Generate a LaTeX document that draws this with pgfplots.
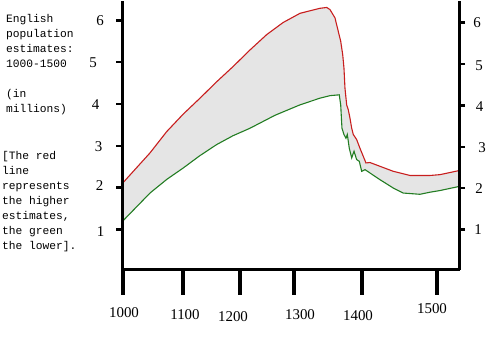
\documentclass[border=0pt]{standalone}
\usepackage{fontspec}
\setmainfont{Liberation Serif}
\newfontfamily\monofont{Liberation Mono}
\usepackage{pgfplots}
\usepackage{pgfplotstable}
\pgfplotsset{compat=1.18}
\usepgfplotslibrary{fillbetween}
\definecolor{redline}{RGB}{200,30,30}
\definecolor{greenline}{RGB}{35,125,35}
\definecolor{bandfill}{RGB}{229,229,229}
\pgfplotstableread{
x y
999 2.10
1043.0 2.83
1069.6 3.34
1096 3.76
1122.6 4.14
1149 4.53
1175.6 4.90
1202 5.29
1228.8 5.66
1255 5.95
1281.9 6.17
1313.7 6.29
1324.4 6.31
1329.6 6.26
1337.6 6.06
1342.8 5.74
1346.7 5.50
1349.9 5.18
1351.9 4.86
1353.5 4.38
1356.2 3.98
1358.8 3.86
1361.5 3.66
1364.2 3.42
1366.7 3.27
1372.1 3.15
1377.4 2.94
1382.6 2.75
1386.9 2.59
1393.3 2.60
1409.2 2.51
1430.4 2.39
1457.0 2.29
1488.9 2.29
1504.8 2.31
1536 2.41
}\redtable
\pgfplotstableread{
x y
999 1.19
1043.0 1.87
1070 2.20
1096.0 2.47
1122 2.76
1149.2 3.03
1175 3.24
1202.2 3.42
1242 3.73
1281.9 3.98
1297.8 4.06
1313.7 4.14
1329.6 4.20
1344.4 4.22
1346.7 3.98
1348.7 3.42
1351.9 3.27
1355.1 3.18
1357.2 3.27
1360.4 2.94
1364.2 2.71
1367.9 2.87
1372.1 2.67
1376.3 2.63
1380.1 2.39
1385.4 2.43
1393.3 2.35
1409.2 2.19
1430.4 1.99
1446.3 1.87
1472.9 1.84
1488.9 1.89
1504.8 1.93
1536 2.03
}\greentable
\begin{document}
\begin{tikzpicture}
% main axis: curves, bottom line, x ticks
\begin{axis}[at={(122.3bp,69.7bp)}, anchor=south west, scale only axis,
  width=337.4bp, height=268.3bp,
  xmin=998.9, xmax=1536.2, ymin=0.036, ymax=6.455,
  axis x line*=bottom, axis y line=none,
  axis line style={line width=2.8bp, black},
  xtick={1000,1095.5,1186.3,1272.3,1380.6,1500}, xticklabels={},
  ytick=\empty,
  tick align=outside, major tick length=25bp,
  x tick style={line width=4.6bp, black}]
\addplot[name path=R, draw=none] table {\redtable};
\addplot[name path=G, draw=none] table {\greentable};
\addplot[bandfill] fill between[of=R and G];
\addplot[redline, line width=1.1bp] table {\redtable};
\addplot[greenline, line width=1.1bp] table {\greentable};
\end{axis}
% left y axis
\begin{axis}[at={(122.3bp,69.7bp)}, anchor=south west, scale only axis,
  width=337.4bp, height=268.3bp,
  xmin=998.9, xmax=1536.2, ymin=0.036, ymax=6.455,
  axis x line=none, axis y line*=left,
  axis line style={line width=2.8bp, black},
  ytick={1,2,3,4,5,6}, yticklabels={}, xtick=\empty,
  tick align=outside, major tick length=6bp,
  y tick style={line width=2.4bp, black}]
\end{axis}
% right y axis
\begin{axis}[at={(122.3bp,69.7bp)}, anchor=south west, scale only axis,
  width=337.4bp, height=268.3bp,
  xmin=998.9, xmax=1536.2, ymin=0.034, ymax=6.507,
  axis x line=none, axis y line*=right,
  axis line style={line width=2.8bp, black},
  ytick={1,2,3,4,5,6}, yticklabels={}, xtick=\empty,
  tick align=outside, major tick length=5.5bp,
  y tick style={line width=2.4bp, black}]
\end{axis}
% tick labels
\tikzset{num/.style={inner sep=0pt, font=\fontsize{15}{15}\selectfont}}
\node[num] at (100bp,319bp) {6};
\node[num] at (93bp,277bp) {5};
\node[num] at (95.5bp,235bp) {4};
\node[num] at (98.5bp,193bp) {3};
\node[num] at (99.5bp,154bp) {2};
\node[num] at (100.5bp,108bp) {1};
\node[num] at (477bp,317bp) {6};
\node[num] at (479bp,273.5bp) {5};
\node[num] at (479.5bp,232.5bp) {4};
\node[num] at (482bp,192bp) {3};
\node[num] at (479bp,150.5bp) {2};
\node[num] at (478bp,110bp) {1};
\node[num] at (124bp,26.3bp) {1000};
\node[num] at (185bp,25bp) {1100};
\node[num] at (233bp,23bp) {1200};
\node[num] at (300bp,25bp) {1300};
\node[num] at (358bp,24bp) {1400};
\node[num] at (432bp,31bp) {1500};
% description text
\tikzset{mono/.style={inner sep=0pt, anchor=base west, font=\monofont\fontsize{11.3}{15}\selectfont}}
\node[mono] at (6bp,317bp) {English};
\node[mono] at (6bp,302bp) {population};
\node[mono] at (6bp,287bp) {estimates:};
\node[mono] at (6bp,272bp) {1000-1500};
\node[mono] at (6bp,242bp) {(in};
\node[mono] at (6bp,227bp) {millions)};
\node[mono] at (2bp,180bp) {[The red};
\node[mono] at (2bp,165bp) {line};
\node[mono] at (2bp,150bp) {represents};
\node[mono] at (2bp,135bp) {the higher};
\node[mono] at (2bp,120bp) {estimates,};
\node[mono] at (2bp,105bp) {the green};
\node[mono] at (2bp,90bp) {the lower].};
\path (0bp,0bp) rectangle (488bp,338bp);
\end{tikzpicture}
\end{document}
